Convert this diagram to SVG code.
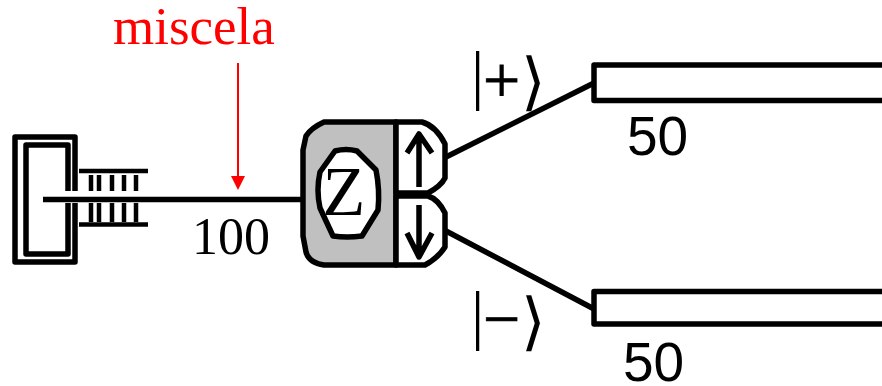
<svg xmlns="http://www.w3.org/2000/svg" width="882" height="386" viewBox="0 0 882 386">
<defs><style>
.s{fill:none;stroke:#000;stroke-width:5.500;stroke-linejoin:round}
.t{stroke:#000;stroke-width:4.500;fill:none}
.serif{font-family:"Liberation Serif",serif}
.sans{font-family:"Liberation Sans",sans-serif}
.box{stroke:#000;stroke-width:5.500;stroke-linejoin:round}
</style></defs>
<rect width="882" height="386" fill="#fff"/>
<g id="connectors">
<path class="s" d="M43 199.500H302M446 157L596 82M446 231L596 310"/>
<path d="M238 63V178" stroke="#f00" stroke-width="2" fill="none"/>
<path d="M231 176L238 190L245 176Z" fill="#f00"/>
</g>
<g id="resonator">
<path class="s" d="M75 191V137H15V262H75V203"/>
<path class="s" d="M68 191V145H26V254H68V203"/>
<path class="t" d="M79 171H148M79 224.500H148M91 175V191M99 175V191M112 175V191M124 175V191M136 175V191M91 203V222M99 203V222M112 203V222M124 203V222M136 203V222"/>
<path d="M43 199.500H302" stroke="#000" stroke-width="5"/>
</g>
<g id="z-block">
<path class="box" d="M324 122H396V265H324Q309 263 306 252L303 236V150L306 136Q311 128 324 122Z" fill="#c0c0c0"/>
<path class="box" d="M335 151Q346 148 357 151L376 170Q380 190 378 210L362 236Q347 238 333 236L320 208Q316 190 320 172Z" fill="#fff"/>
<text class="serif" x="344" y="215" font-size="70" text-anchor="middle">Z</text>
</g>
<g id="port-up">
<path class="box" d="M396 122H422Q436 126 445 144V178Q441 186 428 193H396Z" fill="#fff"/>
<path class="s" d="M419 187V135M407 153L419 134L432 153"/>
</g>
<g id="port-down">
<path class="box" d="M396 196H428Q438 199 445 213V247Q438 258 425 265H396Z" fill="#fff"/>
<path class="s" d="M419 205V256M407 233L419 257L432 233"/>
</g>
<g id="line-plus">
<path class="box" d="M884 65H594V100.500H884" fill="#fff"/>
</g>
<g id="line-minus">
<path class="box" d="M884 291.500H594V324H884" fill="#fff"/>
</g>
<g id="labels">
<text class="serif" x="113" y="44" font-size="53" fill="#f00">miscela</text>
<text class="serif" x="192" y="254" font-size="52">100</text>
<text class="sans" x="627" y="155" font-size="55">50</text>
<text class="sans" x="623" y="381" font-size="55">50</text>
<text class="serif" y="97" font-size="66"><tspan x="471">|</tspan></text>
<text class="serif" y="102" font-size="66" stroke="#000" stroke-width=".8"><tspan x="483">+</tspan></text>
<text class="serif" y="103" font-size="63"><tspan x="521">⟩</tspan></text>
<text class="serif" y="337" font-size="66"><tspan x="471">|</tspan></text>
<text class="serif" y="341" font-size="66" stroke="#000" stroke-width=".8"><tspan x="483">−</tspan></text>
<text class="serif" y="343" font-size="63"><tspan x="521">⟩</tspan></text>
</g>
</svg>
